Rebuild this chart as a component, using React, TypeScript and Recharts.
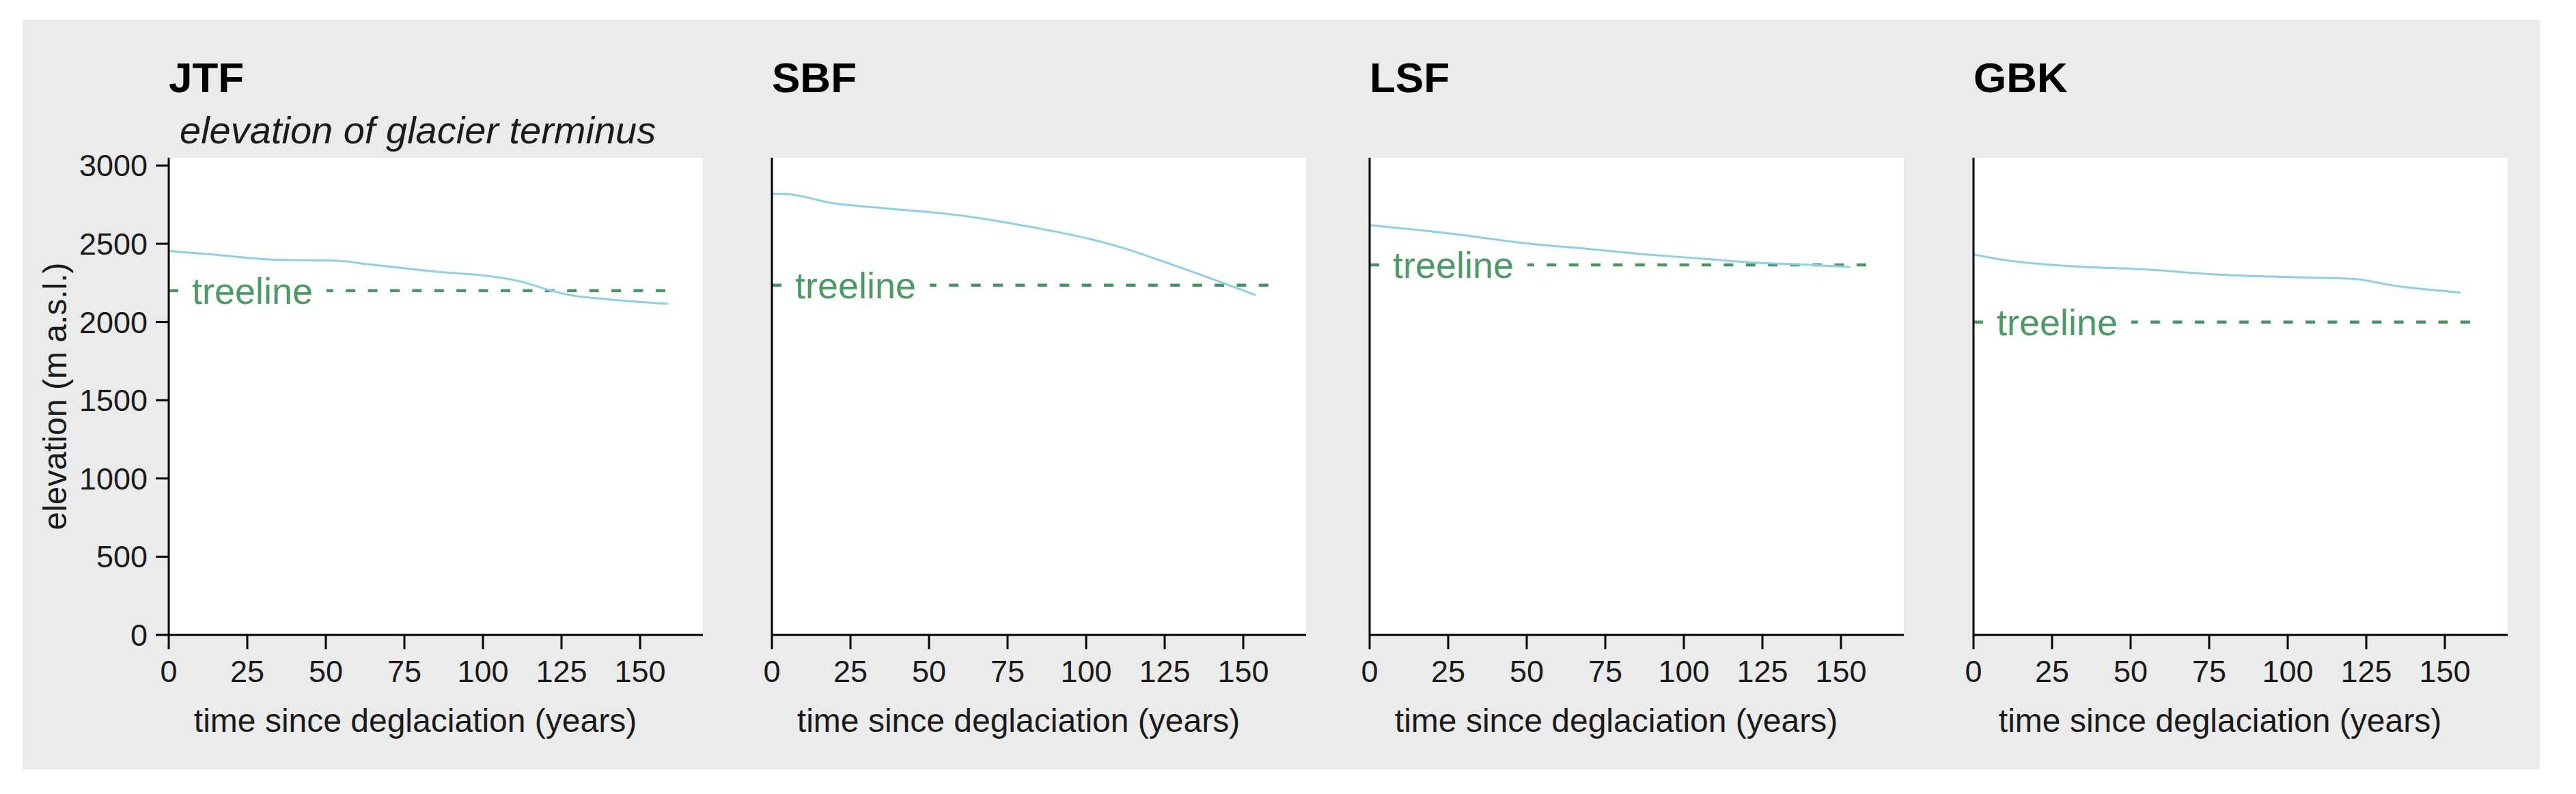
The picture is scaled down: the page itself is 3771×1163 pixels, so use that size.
import React from 'react';
import { LineChart, Line, XAxis, YAxis, CartesianGrid, ReferenceLine } from 'recharts';

// panel names, left to right
const panelNames = ['JTF', 'SBF', 'LSF', 'GBK'];

// elevation of glacier terminus (m a.s.l.) against time since deglaciation (years)
const jtfYears = [0, 12, 33, 54, 63, 83, 108, 113, 120, 128, 140, 159];
const jtfElev = [2454, 2435, 2399, 2391, 2370, 2326, 2275, 2254, 2210, 2171, 2145, 2116];

const sbfYears = [0, 5, 19, 37, 60, 80, 100, 111, 128, 144, 154];
const sbfElev = [2819, 2817, 2761, 2725, 2681, 2616, 2536, 2478, 2362, 2246, 2171];

const lsfYears = [0, 26, 48, 71, 88, 105, 122, 140, 153];
const lsfElev = [2619, 2565, 2507, 2464, 2432, 2406, 2380, 2365, 2351];

const gbkYears = [0, 9, 29, 55, 77, 100, 121, 134, 155];
const gbkElev = [2432, 2399, 2359, 2336, 2304, 2287, 2275, 2232, 2188];

// treeline elevation per panel, and where the dashed line stops
const treelineElev = [2200, 2235, 2365, 2000];
const treelineEnd = 160;

const xTicks = [0, 25, 50, 75, 100, 125, 150];
const yTicks = [0, 500, 1000, 1500, 2000, 2500, 3000];

const FONT = '"Liberation Sans", Arial, Helvetica, sans-serif';
const BLUE = '#8fd0e6';
const GREEN = '#4e9a66';
const DASH_GREEN = '#4a9362';
const INK = '#1a1a1a';

const AXIS_X = [247, 1130, 2005, 2889];
const Y_AXIS_W = 200;
const PLOT_W = 782;
const PLOT_TOP = 231;
const PLOT_H = 699;
const X_AXIS_H = 175;
const CHART_TOP = 200;

const toRows = (years: number[], elev: number[]) =>
  years.map((y, i) => ({ year: y, elev: elev[i] }));

const panelData = [
  toRows(jtfYears, jtfElev),
  toRows(sbfYears, sbfElev),
  toRows(lsfYears, lsfElev),
  toRows(gbkYears, gbkElev),
];

const TreelineLabel = (props: any) => {
  const { x, y } = props.viewBox;
  return (
    <g>
      <rect x={x + 15} y={y - 8} width={216} height={16} fill="#fff" />
      <text x={x + 34} y={y + 19} fill={GREEN} fontSize={54} fontFamily={FONT}>
        treeline
      </text>
    </g>
  );
};

const XLabel = (props: any) => {
  const { x, y } = props.viewBox;
  return (
    <text x={x + 361} y={y + 142} textAnchor="middle" fontSize={48} fontFamily={FONT} fill={INK}>
      time since deglaciation (years)
    </text>
  );
};

const YLabel = (props: any) => {
  const { x, y, height } = props.viewBox;
  const cx = x + 50;
  const cy = y + height / 2;
  return (
    <text
      x={cx}
      y={cy}
      textAnchor="middle"
      fontSize={48}
      fontFamily={FONT}
      fill={INK}
      transform={`rotate(-90, ${cx}, ${cy})`}
    >
      elevation (m a.s.l.)
    </text>
  );
};

const Panel = ({ index }: { index: number }) => {
  const showLabels = index === 0;
  const tl = treelineElev[index];
  return (
    <div style={{ position: 'absolute', left: AXIS_X[index] - Y_AXIS_W, top: CHART_TOP }}>
      <LineChart
        width={Y_AXIS_W + PLOT_W + 10}
        height={PLOT_TOP - CHART_TOP + PLOT_H + X_AXIS_H}
        data={panelData[index]}
        margin={{ top: PLOT_TOP - CHART_TOP, right: 10, bottom: 0, left: 0 }}
      >
        <CartesianGrid fill="#fff" horizontal={false} vertical={false} />
        <XAxis
          type="number"
          dataKey="year"
          domain={[0, 170]}
          ticks={xTicks}
          interval={0}
          allowDataOverflow
          height={X_AXIS_H}
          tickSize={21}
          tickMargin={16}
          axisLine={{ stroke: '#000', strokeWidth: 3 }}
          tickLine={{ stroke: '#000', strokeWidth: 3 }}
          tick={{ fontSize: 45, fill: INK, fontFamily: FONT }}
          label={XLabel}
        />
        <YAxis
          type="number"
          domain={[0, 3050]}
          ticks={yTicks}
          interval={0}
          allowDataOverflow
          width={Y_AXIS_W}
          tickSize={19}
          tickMargin={12}
          axisLine={{ stroke: '#000', strokeWidth: 3 }}
          tickLine={{ stroke: '#000', strokeWidth: 3 }}
          tick={showLabels ? { fontSize: 45, fill: INK, fontFamily: FONT } : false}
          label={showLabels ? YLabel : undefined}
        />
        <ReferenceLine
          segment={[{ x: 0, y: tl }, { x: treelineEnd, y: tl }]}
          stroke={DASH_GREEN}
          strokeWidth={4.5}
          strokeDasharray="14 18.4"
          ifOverflow="visible"
          label={TreelineLabel}
        />
        <Line
          type="monotone"
          dataKey="elev"
          stroke={BLUE}
          strokeWidth={3}
          dot={false}
          activeDot={false}
          isAnimationActive={false}
        />
      </LineChart>
    </div>
  );
};

export default function App() {
  return (
    <div
      style={{
        position: 'absolute',
        left: 0,
        top: 0,
        width: 3771,
        height: 1163,
        background: '#fff',
        fontFamily: FONT,
        overflow: 'hidden',
      }}
    >
      <div
        style={{
          position: 'absolute',
          left: 33,
          top: 29,
          width: 3685,
          height: 1098,
          background: '#ebebeb',
        }}
      />
      {panelNames.map((_, i) => (
        <Panel key={i} index={i} />
      ))}
      <svg
        width={3771}
        height={1163}
        style={{ position: 'absolute', left: 0, top: 0, pointerEvents: 'none' }}
      >
        {panelNames.map((name, i) => (
          <text key={name} x={AXIS_X[i]} y={135} fontSize={62} fontWeight="bold" fontFamily={FONT} fill="#000">
            {name}
          </text>
        ))}
        <text x={263} y={210} fontSize={56} fontStyle="italic" fontFamily={FONT} fill={INK}>
          elevation of glacier terminus
        </text>
      </svg>
    </div>
  );
}
